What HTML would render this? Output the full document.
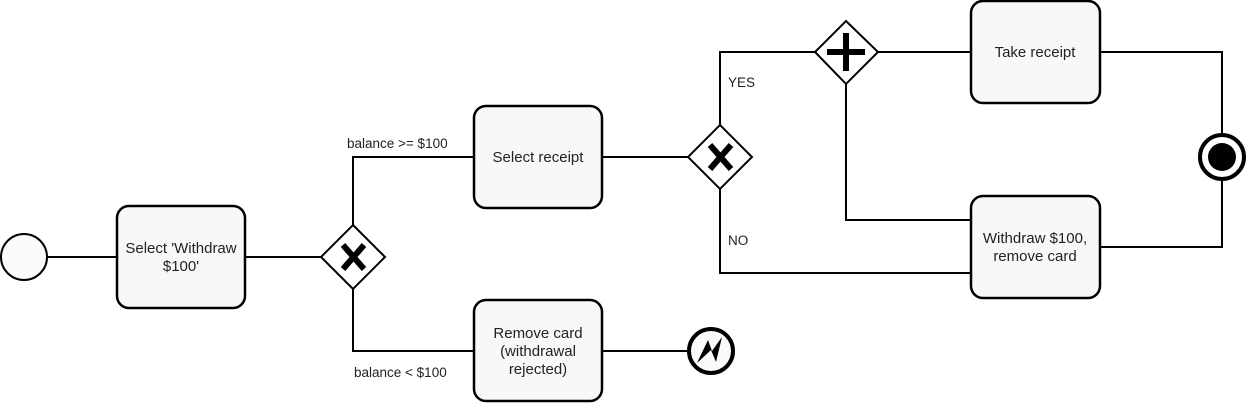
<!DOCTYPE html>
<html><head><meta charset="utf-8"><style>
html,body{margin:0;padding:0;background:#fff;}
svg{display:block;}
text{font-family:"Liberation Sans",Arial,sans-serif;fill:#222;}
</style></head><body>
<svg width="1248" height="404" viewBox="0 0 1248 404" xmlns="http://www.w3.org/2000/svg">
<g fill="none" stroke="#000" stroke-width="2">
<line x1="47" y1="257" x2="117" y2="257"/>
<line x1="245" y1="257" x2="321" y2="257"/>
<polyline points="353,225 353,157 474,157"/>
<polyline points="353,289 353,351 474,351"/>
<line x1="602" y1="351" x2="687" y2="351"/>
<line x1="602" y1="157" x2="688" y2="157"/>
<polyline points="720,125 720,52 815,52"/>
<line x1="878" y1="52" x2="971" y2="52"/>
<polyline points="846,84 846,220 971,220"/>
<polyline points="720,189 720,273 971,273"/>
<polyline points="1100,52 1222,52 1222,134"/>
<polyline points="1100,247 1222,247 1222,181"/>
</g>
<circle cx="24" cy="257" r="23" fill="#fafafa" stroke="#000" stroke-width="2"/>
<g fill="#f8f8f8" stroke="#000" stroke-width="2.5">
<rect x="117" y="206" width="128" height="102" rx="12"/>
<rect x="474" y="106" width="128" height="102" rx="12"/>
<rect x="474" y="300" width="128" height="101" rx="12"/>
<rect x="971" y="1" width="129" height="102" rx="12"/>
<rect x="971" y="196" width="129" height="102" rx="12"/>
</g>
<g fill="#fff" stroke="#000" stroke-width="2">
<polygon points="353,225 385,257 353,289 321,257"/>
<polygon points="720,125 752,157 720,189 688,157"/>
<polygon points="846,21 878,52 846,84 815,52"/>
</g>
<g stroke="#000" stroke-width="6" stroke-linecap="butt">
<line x1="343" y1="245" x2="364" y2="269"/><line x1="364" y1="245" x2="343" y2="269"/>
<line x1="710" y1="145" x2="731" y2="169"/><line x1="731" y1="145" x2="710" y2="169"/>
<line x1="846" y1="33" x2="846" y2="71"/><line x1="827" y1="52" x2="865" y2="52"/>
</g>
<circle cx="711" cy="351" r="22" fill="#fafafa" stroke="#000" stroke-width="4"/>
<polygon points="697,363 708,340 712,351 722,337 716,362 711,350" fill="#000"/>
<circle cx="1222" cy="157" r="22" fill="#fff" stroke="#000" stroke-width="4"/>
<circle cx="1222" cy="157" r="14" fill="#000"/>
<g font-size="15" text-anchor="middle">
<text x="181" y="253">Select 'Withdraw</text>
<text x="181" y="271">$100'</text>
<text x="538" y="162">Select receipt</text>
<text x="538" y="338">Remove card</text>
<text x="538" y="356">(withdrawal</text>
<text x="538" y="374">rejected)</text>
<text x="1035" y="57">Take receipt</text>
<text x="1035" y="243">Withdraw $100,</text>
<text x="1035" y="261">remove card</text>
</g>
<g font-size="13.5">
<text x="347" y="148">balance &gt;= $100</text>
<text x="354" y="377">balance &lt; $100</text>
<text x="728" y="87">YES</text>
<text x="728" y="245">NO</text>
</g>
</svg>
</body></html>
